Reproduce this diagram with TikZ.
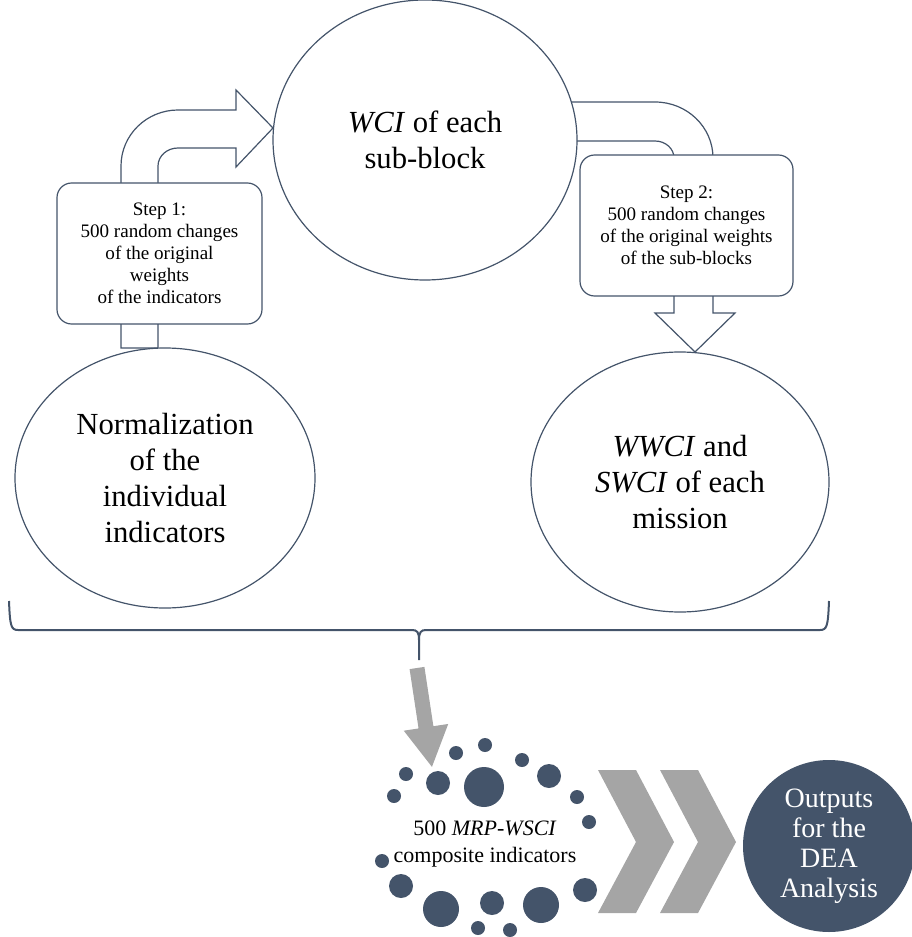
\documentclass[tikz,border=0pt]{standalone}
\usepackage{fontspec}
\setmainfont{Liberation Serif}
\usetikzlibrary{shapes.geometric}
\definecolor{slate}{HTML}{44546A}
\definecolor{greyarrow}{HTML}{A5A5A5}
\tikzset{
  bubble/.style={ellipse, draw=slate, fill=white, line width=0.9pt, inner sep=0pt,
    align=center, font=\fontsize{23}{27}\selectfont},
  stepbox/.style={rectangle, rounded corners=11pt, draw=slate, fill=white, line width=0.9pt,
    inner sep=0pt, align=center, font=\fontsize{14.3}{16.5}\selectfont},
  blockarrow/.style={draw=slate, fill=white, line width=0.9pt, line join=miter},
  dot/.style={fill=slate},
}
\begin{document}
\begin{tikzpicture}[x=0.75pt, y=-0.75pt]
  \useasboundingbox (0,0) rectangle (912,937);
  % Flecha curva del paso 1
  \draw[blockarrow] (121,348) -- (121,166)
    arc[start angle=180, end angle=270, x radius=57, y radius=56]
    -- (236,110) -- (236,90) -- (273,128) -- (236,167) -- (236,148) -- (178,148)
    arc[start angle=270, end angle=180, x radius=20, y radius=18]
    -- (158,348) -- cycle;
  % Flecha curva del paso 2
  \draw[blockarrow] (560,102) -- (655,102)
    arc[start angle=270, end angle=360, x radius=58, y radius=56]
    -- (713,313) -- (735,313) -- (695,352) -- (655,313) -- (674,313) -- (674,158)
    arc[start angle=0, end angle=-90, x radius=19, y radius=17]
    -- (560,141) -- cycle;
  % Elipses
  \node[bubble, minimum width=228pt, minimum height=210pt] (wci) at (425,140)
    {\textit{WCI} of each\\sub-block};
  \node[bubble, minimum width=225pt, minimum height=195pt] (norm) at (165,478)
    {Normalization\\of the\\individual\\indicators};
  \node[bubble, minimum width=223.5pt, minimum height=195pt] (wwci) at (680,482)
    {\textit{WWCI} and\\\textit{SWCI} of each\\mission};
  % Cajas de los pasos
  \node[stepbox, minimum width=153.75pt, minimum height=105.75pt] (step1) at (159.5,253.5)
    {Step 1:\\500 random changes\\of the original\\weights\\of the indicators};
  \node[stepbox, minimum width=159.75pt, minimum height=105.75pt] (step2) at (686.5,225.5)
    {Step 2:\\500 random changes\\of the original weights\\of the sub-blocks};
  % Llave inferior
  \draw[slate, line width=1.5pt]
    (9,601) .. controls (10,626) and (11,630) .. (18,630) -- (412,630)
    .. controls (417,630) and (419,632) .. (419,640) -- (419,660);
  \draw[slate, line width=1.5pt]
    (829,601) .. controls (828,626) and (827,630) .. (820,630) -- (426,630)
    .. controls (421,630) and (419,632) .. (419,640);
  % Flecha gris
  \begin{scope}[shift={(417,668)}, rotate=-81.4]
    \fill[greyarrow] (0,-7.5) -- (60,-7.5) -- (60,-22.5) -- (100,0)
      -- (60,22.5) -- (60,7.5) -- (0,7.5) -- cycle;
  \end{scope}
  % Puntos alrededor del texto
  \foreach \x/\y/\r in {485/745/7, 456/753/7, 522/760/7, 406/774/7, 438/783/12,
      484/787/20, 549/776/12, 394/796/7, 577/797/7, 589/822/7, 382/861/7,
      401/886/12, 441/909/18, 492/903/12, 541/905/18, 585/890/12, 478/928/7, 510/930/7}
    \fill[dot] (\x,\y) circle[radius=\r];
  \node[font=\fontsize{16.5}{20}\selectfont, align=center] (mrp) at (485,844)
    {500 \textit{MRP-WSCI}\\composite indicators};
  % Chevrones
  \fill[greyarrow] (598,770) -- (636,770) -- (674,842) -- (636,913) -- (598,913) -- (636,842) -- cycle;
  \fill[greyarrow] (660,770) -- (698,770) -- (736,842) -- (698,913) -- (660,913) -- (698,842) -- cycle;
  % Resultado
  \node[circle, fill=slate, minimum size=129pt, inner sep=0pt, text=white, align=center,
    font=\fontsize{21}{22.5}\selectfont] (dea) at (829,846)
    {Outputs\\for the\\DEA\\Analysis};
\end{tikzpicture}
\end{document}
